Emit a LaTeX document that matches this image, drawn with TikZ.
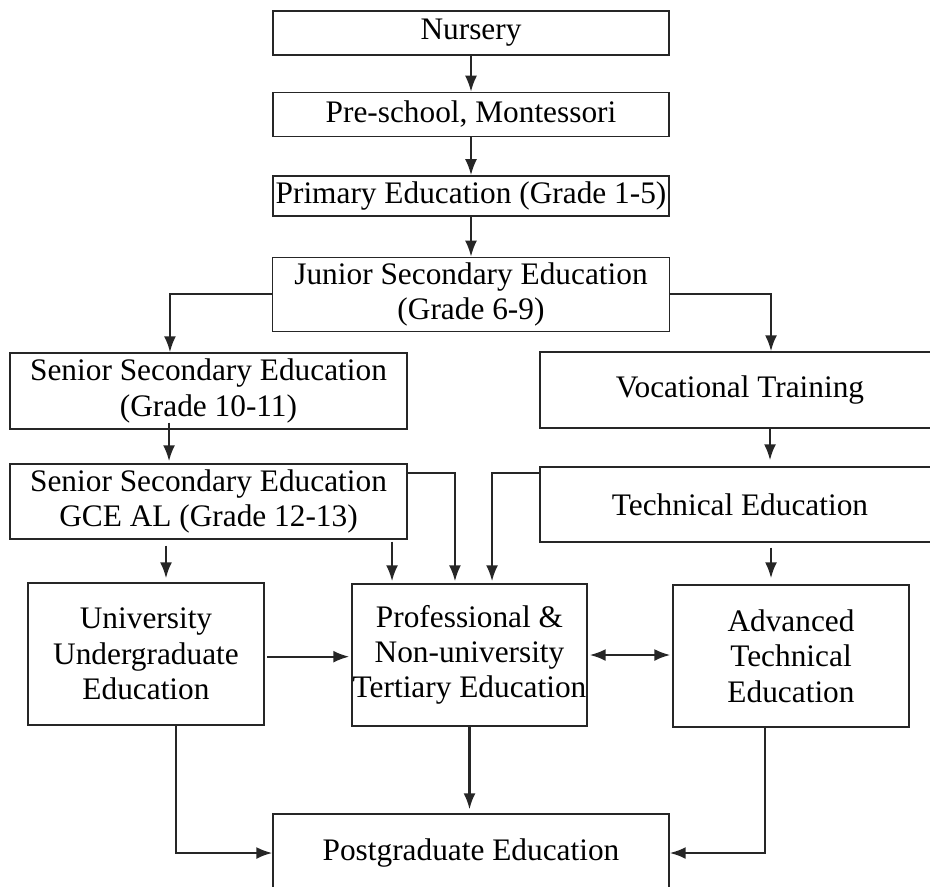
\documentclass[tikz,border=0pt]{standalone}
\usepackage{fontspec}
\setmainfont{Liberation Serif}
\usetikzlibrary{
	positioning,
	arrows.meta
}

\tikzset{
	level/.style={draw=black!85, line width=1.1pt, align=center,
		inner xsep=0pt, inner ysep=0pt,
		font=\fontsize{23.5}{26.5}\selectfont},
	flow/.style={draw=black!85, line width=1.6pt,
		-{Latex[length=12pt,width=9pt]}},
	both/.style={flow, {Latex[length=12pt,width=9pt]}-{Latex[length=12pt,width=9pt]}}
}

\begin{document}
\begin{tikzpicture}[x=0.75pt,y=-0.75pt]
		\clip (0,0) rectangle (930,886);
		\draw
			node[level,minimum width=297pt,minimum height=33pt] (nursery) at (471,33) {Nursery}
			node[level,minimum width=297pt,minimum height=33pt,below=27pt of nursery] (preschool) {Pre-school, Montessori}
			node[level,minimum width=297pt,minimum height=30pt,below=28.5pt of preschool] (primary) {Primary Education (Grade 1-5)}
			node[level,minimum width=297.75pt,minimum height=55.5pt,below=30pt of primary] (junior) {Junior Secondary Education\\(Grade 6-9)}

			node[level,minimum width=297.75pt,minimum height=57pt] (senior) at (208.5,391) {Senior Secondary Education\\(Grade 10-11)}
			node[level,minimum width=300pt,minimum height=57pt] (vocational) at (740,390) {Vocational Training}
			node[level,minimum width=297.75pt,minimum height=56.25pt] (gceal) at (208.5,501.5) {Senior Secondary Education\\GCE AL (Grade 12-13)}
			node[level,minimum width=300pt,minimum height=56.25pt] (technical) at (740,504.5) {Technical Education}

			node[level,minimum width=177pt,minimum height=106.5pt] (university) at (146,654) {University\\Undergraduate\\Education}
			node[level,minimum width=176.25pt,minimum height=106.5pt] (professional) at (469.5,655) {Professional \&\\Non-university\\Tertiary Education}
			node[level,minimum width=177pt,minimum height=106.5pt] (advanced) at (791,656) {Advanced\\Technical\\Education}

			node[level,minimum width=297pt,minimum height=58.5pt] (postgrad) at (471,853) {Postgraduate Education}
		;

		% school levels
		\draw[flow] (nursery) -- (preschool);
		\draw[flow] (preschool) -- (primary);
		\draw[flow] (primary) -- (junior);
		\draw[flow] (junior.west) -| ([xshift=-28.9pt]senior.north);
		\draw[flow] (junior.east) -| ([xshift=23.25pt]vocational.north);
		\draw[flow] ([xshift=-29.6pt,yshift=5.25pt]senior.south) -- ([xshift=-29.6pt,yshift=1.5pt]senior.south |- gceal.north);
		\draw[flow,shorten >=4.5pt] ([xshift=22.5pt]vocational.south) -- ([xshift=22.5pt]vocational.south |- technical.north);

		% into tertiary
		\draw[flow,shorten <=4.5pt,shorten >=3pt] ([xshift=15pt]university.north |- gceal.south) -- ([xshift=15pt]university.north);
		\draw[flow,shorten <=3.75pt,shorten >=4.5pt] ([xshift=-15pt]advanced.north |- technical.south) -- ([xshift=-15pt]advanced.north);
		\draw[flow,shorten <=1.5pt,shorten >=1.5pt] ([xshift=-58.1pt]professional.north |- gceal.south) -- ([xshift=-58.1pt]professional.north);
		\draw[flow,shorten >=1.5pt] ([yshift=-7.5pt]gceal.north east) -| ([xshift=-10.9pt]professional.north);
		\draw[flow,shorten >=1.5pt] ([yshift=-5.25pt]technical.north west) -| ([xshift=16.9pt]professional.north);

		% tertiary to postgraduate
		\draw[flow,shorten <=2pt,shorten >=1.5pt] ([yshift=-2pt]university.east) -- ([yshift=-2pt]university.east -| professional.west);
		\draw[both,shorten <=1.5pt,shorten >=1.5pt] (professional.east) -- (professional.east -| advanced.west);
		\draw[flow,shorten >=3pt] (professional.south) -- (professional.south |- postgrad.north);
		\draw[flow] ([xshift=22.5pt]university.south) |- (postgrad.west);
		\draw[flow] ([xshift=-19.5pt]advanced.south) |- (postgrad.east);
	\end{tikzpicture}
\end{document}
